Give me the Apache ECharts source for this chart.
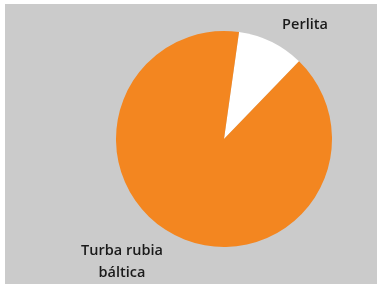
<!DOCTYPE html>
<html>
<head>
<meta charset="utf-8">
<script src="https://cdn.jsdelivr.net/npm/echarts@6/dist/echarts.min.js"></script>
<style>
    html, body { margin: 0; padding: 0; background: #ffffff; }
    #chart { position: absolute; left: 5px; top: 4px; width: 372px; height: 280px; }
</style>
</head>
<body>
<div id="chart"></div>
<script>
var categories = ['Perlita', 'Turba rubia\nbáltica'];
var values = [10, 90];
var colors = ['#ffffff', '#f38620'];
// where each label sits (chart coords)
var labelPos = [[300, 21], [117, 258]];

var chart = echarts.init(document.getElementById('chart'));
var option = {
    backgroundColor: '#cbcbcb',
    animation: false,
    series: [{
        type: 'pie',
        center: [219, 135],
        radius: 108,
        startAngle: 82,
        clockwise: true,
        label: {
            show: true,
            formatter: '{b}',
            color: '#1a1a1a',
            fontFamily: 'Open Sans',
            fontWeight: 600,
            fontSize: 14.5,
            lineHeight: 22,
            align: 'center'
        },
        labelLine: { show: false },
        labelLayout: function (params) {
            var p = labelPos[params.dataIndex];
            return { x: p[0], y: p[1], align: 'center', verticalAlign: 'middle' };
        },
        itemStyle: { borderWidth: 0 },
        emphasis: { disabled: true },
        data: categories.map(function (c, i) {
            return { name: c, value: values[i], itemStyle: { color: colors[i] } };
        })
    }]
};
chart.setOption(option);
</script>
</body>
</html>
